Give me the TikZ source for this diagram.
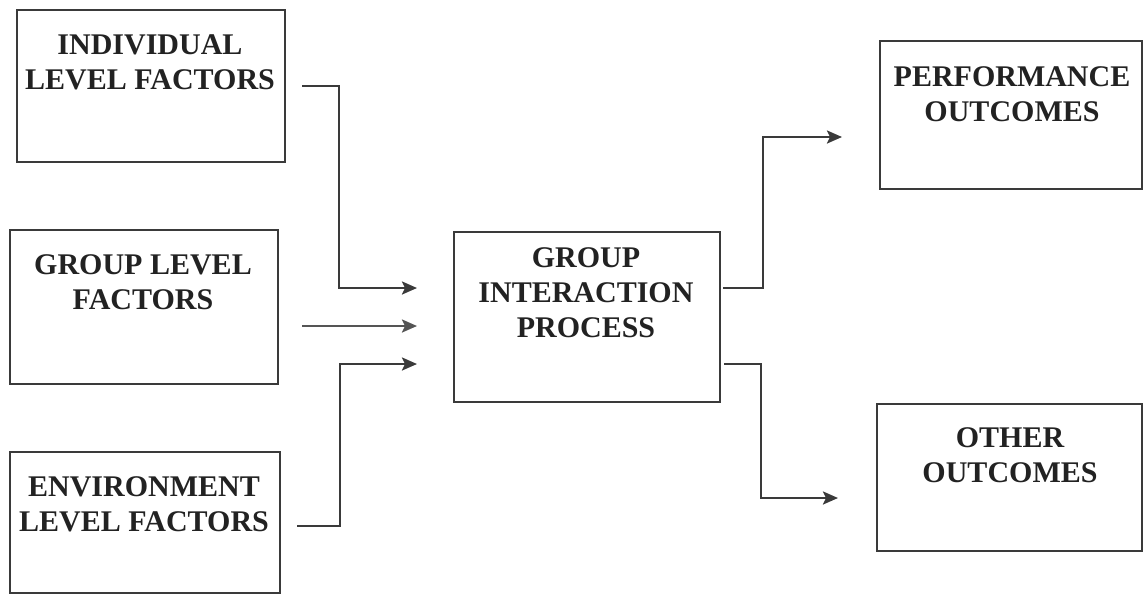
\documentclass[tikz,border=0pt]{standalone}
\usepackage{fontspec}
\setmainfont{Liberation Serif}
\usetikzlibrary{arrows.meta}
\definecolor{ink}{HTML}{222222}
\definecolor{edge}{HTML}{3A3A3A}
\definecolor{softedge}{HTML}{555555}
\tikzset{
  box/.style={draw=edge, line width=2.4pt, rectangle, inner sep=0pt},
  lbl/.style={text=ink, align=center, inner sep=0pt,
    font=\bfseries\fontsize{30pt}{35pt}\selectfont},
  conn/.style={draw=edge, line width=2.4pt,
    -{Stealth[length=15pt,width=13pt,inset=3pt]}}
}
\begin{document}
\begin{tikzpicture}[x=1pt,y=-1pt]
  \useasboundingbox[fill=white] (0,0) rectangle (1144,595);

  % input factor boxes
  \node[box, minimum width=268pt, minimum height=152pt] (b1) at (151,86) {};
  \node[box, minimum width=268pt, minimum height=154pt] (b2) at (144,307) {};
  \node[box, minimum width=270pt, minimum height=141pt] (b3) at (145,522.5) {};
  % process box
  \node[box, minimum width=266pt, minimum height=170pt] (bp) at (587,317) {};
  % outcome boxes
  \node[box, minimum width=262pt, minimum height=148pt] (bo1) at (1011,115) {};
  \node[box, minimum width=265pt, minimum height=147pt] (bo2) at (1009.5,477.5) {};

  % box captions
  \node[lbl] (t1) at (150,62.5) {INDIVIDUAL\\LEVEL FACTORS};
  \node[lbl] (t2) at (143,282.5) {GROUP LEVEL\\FACTORS};
  \node[lbl] (t3) at (144,504.5) {ENVIRONMENT\\LEVEL FACTORS};
  \node[lbl] (tp) at (586,292.5) {GROUP\\INTERACTION\\PROCESS};
  \node[lbl] (to1) at (1012,94.5) {PERFORMANCE\\OUTCOMES};
  \node[lbl] (to2) at (1010,455.5) {OTHER\\OUTCOMES};

  % connector ends
  \coordinate (s1) at (302,86);
  \coordinate (e1) at (417,288);
  \coordinate (s2) at (302,326);
  \coordinate (e2) at (417,326);
  \coordinate (s3) at (297,526);
  \coordinate (e3) at (417,364);
  \coordinate (s4) at (723,288);
  \coordinate (e4) at (842,137);
  \coordinate (s5) at (724,364);
  \coordinate (e5) at (838,498);

  % inputs into the process
  \draw[conn] (s1) -- ++(37,0) |- (e1);
  \draw[conn, draw=softedge] (s2) -- (e2);
  \draw[conn] (s3) -- ++(43,0) |- (e3);
  % process to outcomes
  \draw[conn] (s4) -- ++(40,0) |- (e4);
  \draw[conn] (s5) -- ++(37,0) |- (e5);
\end{tikzpicture}
\end{document}
